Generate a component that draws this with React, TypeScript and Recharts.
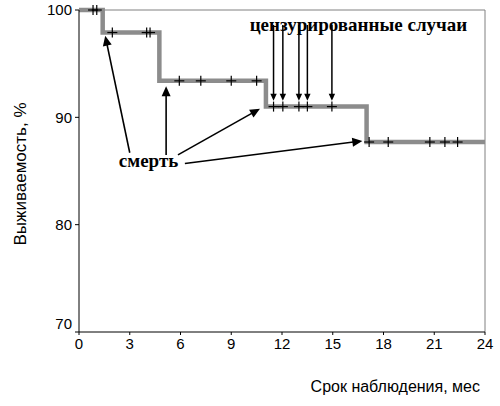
import { ComposedChart, Line, Scatter, XAxis, YAxis, ReferenceLine, ReferenceDot } from "recharts";

// Kaplan-Meier step: event times (months) and survival (%)
const eventTimes = [0, 1.4, 4.75, 11.05, 17.0, 24];
const survivalValues = [100, 97.9, 93.4, 91.0, 87.7, 87.7];

// censored observations (months)
const censoredTimes = [
  0.83, 1.05, 1.97, 4.0, 4.2, 5.93, 7.2, 9.0, 10.5, 11.5, 12.05, 13.0, 13.5, 14.95, 17.15, 18.28, 20.74,
  21.63, 22.38,
];
// censored cases pointed at by the label arrows
const pointedCensored = [11.5, 12.05, 13.0, 13.5, 14.95];

const xTicks = [0, 3, 6, 9, 12, 15, 18, 21, 24];
const yTicks = [70, 80, 90, 100];

// "смерть" arrows: start near the label, tip at each death step
const deathArrowStarts = [
  [3.0, 86.7],
  [5.15, 86.5],
  [5.85, 86.5],
  [6.26, 85.7],
];
const deathArrowTips = [
  [1.55, 97.6],
  [5.15, 92.9],
  [10.7, 90.8],
  [16.75, 87.8],
];

const censorLabelPos = [16.52, 98.04];
const deathLabelPos = [4.11, 85.37];
const censorArrowTop = 98.6;

const sansFont = '"Liberation Sans", Arial, sans-serif';
const serifFont = '"Liberation Serif", "Times New Roman", serif';

function survivalAt(t: number): number {
  let level = survivalValues[0];
  eventTimes.forEach((et, i) => {
    if (et <= t) level = survivalValues[i];
  });
  return level;
}

const survivalRows = eventTimes.map((t, i) => ({ t, s: survivalValues[i] }));
const censoredRows = censoredTimes.map((t) => ({ t, s: survivalAt(t) }));

function CrossShape(props: any) {
  const { cx, cy } = props;
  if (cx == null || cy == null) return null;
  return (
    <g stroke="#000" strokeWidth={1.2}>
      <line x1={cx - 5} y1={cy} x2={cx + 5} y2={cy} />
      <line x1={cx} y1={cy - 5} x2={cx} y2={cy + 5} />
    </g>
  );
}

function makeArrow(headLen: number, headHalf: number, width: number) {
  return (props: any) => {
    const { x1, y1, x2, y2 } = props;
    if ([x1, y1, x2, y2].some((v) => v == null || Number.isNaN(v))) return null;
    const dx = x2 - x1;
    const dy = y2 - y1;
    const len = Math.sqrt(dx * dx + dy * dy) || 1;
    const ux = dx / len;
    const uy = dy / len;
    const bx = x2 - ux * headLen;
    const by = y2 - uy * headLen;
    const px = -uy * headHalf;
    const py = ux * headHalf;
    return (
      <g>
        <line x1={x1} y1={y1} x2={bx + ux} y2={by + uy} stroke="#000" strokeWidth={width} />
        <polygon points={`${x2},${y2} ${bx + px},${by + py} ${bx - px},${by - py}`} fill="#000" />
      </g>
    );
  };
}

const deathArrow = makeArrow(10, 4.5, 1.6);
const censorArrow = makeArrow(7, 3.2, 1.5);

function YTick(props: any) {
  const { x, y, payload } = props;
  const shift = payload.value === yTicks[0] ? -8 : 0;
  return (
    <text x={x} y={y + shift} dy="0.35em" textAnchor="end" fill="#000" fontSize={15} fontFamily={sansFont}>
      {payload.value}
    </text>
  );
}

export default function App() {
  return (
    <div style={{ position: "fixed", left: 0, top: 0, width: 500, height: 406, background: "#fff" }}>
      <ComposedChart width={500} height={406} margin={{ top: 10, right: 15, bottom: 44, left: 0 }}>
        <XAxis
          dataKey="t"
          type="number"
          domain={[0, 24]}
          ticks={xTicks}
          interval={0}
          height={30}
          stroke="#000"
          tickSize={3}
          tickMargin={3}
          tick={{ fill: "#000", fontSize: 15, fontFamily: sansFont }}
        />
        <YAxis
          type="number"
          domain={[70, 100]}
          ticks={yTicks}
          interval={0}
          width={79}
          stroke="#000"
          tickSize={4}
          tickMargin={3}
          tick={<YTick />}
        />
        <ReferenceLine y={100} stroke="#808080" strokeWidth={1} />
        <ReferenceLine x={24} stroke="#808080" strokeWidth={1} />

        <Line
          data={survivalRows}
          dataKey="s"
          type="stepAfter"
          stroke="#8c8c8c"
          strokeWidth={4.5}
          dot={false}
          activeDot={false}
          isAnimationActive={false}
        />
        <Scatter data={censoredRows} dataKey="s" shape={CrossShape} isAnimationActive={false} />

        {pointedCensored.map((t) => (
          <ReferenceLine
            key={`c${t}`}
            segment={[
              { x: t, y: censorArrowTop },
              { x: t, y: survivalAt(t) + 0.55 },
            ]}
            shape={censorArrow}
          />
        ))}
        {deathArrowStarts.map((start, i) => (
          <ReferenceLine
            key={`d${i}`}
            segment={[
              { x: start[0], y: start[1] },
              { x: deathArrowTips[i][0], y: deathArrowTips[i][1] },
            ]}
            shape={deathArrow}
          />
        ))}

        <ReferenceDot
          x={censorLabelPos[0]}
          y={censorLabelPos[1]}
          r={0}
          shape={(p: any) => (
            <text x={p.cx} y={p.cy} textAnchor="middle" fontFamily={serifFont} fontWeight="bold" fontSize={19} fill="#000">
              цензурированные случаи
            </text>
          )}
        />
        <ReferenceDot
          x={deathLabelPos[0]}
          y={deathLabelPos[1]}
          r={0}
          shape={(p: any) => (
            <text x={p.cx} y={p.cy} textAnchor="middle" fontFamily={serifFont} fontWeight="bold" fontSize={19} fill="#000">
              смерть
            </text>
          )}
        />
      </ComposedChart>
      <div
        style={{
          position: "absolute",
          left: 20,
          top: 174,
          transform: "translate(-50%, -50%) rotate(-90deg)",
          whiteSpace: "nowrap",
          fontFamily: sansFont,
          fontSize: 17,
          lineHeight: "17px",
        }}
      >
        Выживаемость, %
      </div>
      <div
        style={{
          position: "absolute",
          right: 20,
          top: 378,
          whiteSpace: "nowrap",
          fontFamily: sansFont,
          fontSize: 16,
          lineHeight: "18px",
        }}
      >
        Срок наблюдения, мес
      </div>
    </div>
  );
}
